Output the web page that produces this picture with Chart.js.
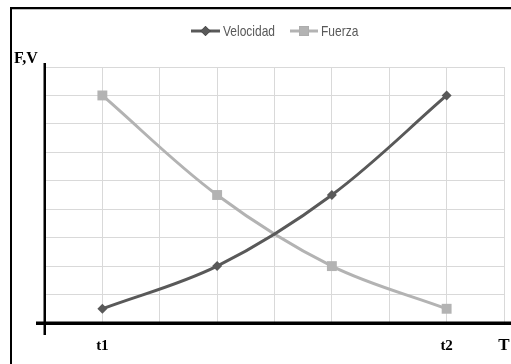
<!DOCTYPE html>
<html lang="es">
<head>
  <meta charset="UTF-8">
  <title>Velocidad y Fuerza</title>
  <script src="https://cdn.jsdelivr.net/npm/chart.js"></script>
  <style>
    body { margin: 0; background: #fff; }
  </style>
</head>
<body>
  <canvas id="grafico" width="511" height="364"></canvas>
<script>
  // datos
  var tiempos = [1, 3, 5, 7];
  var velocidad = [0.5, 2, 4.5, 8];
  var fuerza = [8, 4.5, 2, 0.5];
  var ticksX = [1, 7, 8];
  var textosX = ['t1', 't2', 'T'];
  var nombres = ['Velocidad', 'Fuerza'];
  var colores = ['#595959', '#b3b3b3'];

  function puntos(ys) {
    var lista = [];
    for (var i = 0; i < tiempos.length; i++) {
      lista.push({ x: tiempos[i], y: ys[i] });
    }
    return lista;
  }

  var fuenteSans = '"Liberation Sans", Arial, sans-serif';
  var fuenteSerif = '"Liberation Serif", "DejaVu Serif", serif';

  // dibuja marco, ejes, leyenda y rotulos
  var extras = {
    id: 'extras',
    afterDraw: function (chart) {
      var ctx = chart.ctx;
      var xs = chart.scales.x;
      var ys = chart.scales.y;
      ctx.save();

      // marco
      ctx.fillStyle = '#000';
      ctx.fillRect(10, 7, 501, 2);
      ctx.fillRect(10, 7, 2, 357);
      ctx.fillStyle = '#bdbdbd';
      ctx.fillRect(12, 9, 499, 1);

      // ejes
      var x0 = xs.getPixelForValue(0);
      var y0 = ys.getPixelForValue(0);
      ctx.fillStyle = '#000';
      ctx.fillRect(x0 - 1.5, 63, 2.5, 272);
      ctx.fillRect(36, y0 - 1.5, 475, 3.5);

      // rotulos
      ctx.font = 'bold 16px ' + fuenteSerif;
      ctx.textBaseline = 'alphabetic';
      ctx.textAlign = 'left';
      ctx.fillText('F,V', 14, 63);
      ctx.textAlign = 'center';
      ctx.font = 'bold 15px ' + fuenteSerif;
      for (var i = 0; i < ticksX.length; i++) {
        if (textosX[i] === 'T') ctx.font = 'bold 17px ' + fuenteSerif;
        ctx.fillText(textosX[i], xs.getPixelForValue(ticksX[i]), 350);
      }

      // leyenda (texto estrecho)
      var items = [
        { x1: 191, x2: 220, tx: 223 },
        { x1: 290, x2: 318, tx: 321 }
      ];
      var ly = 31;
      ctx.textAlign = 'left';
      ctx.textBaseline = 'middle';
      for (var j = 0; j < items.length; j++) {
        var it = items[j];
        var ds = chart.data.datasets[j];
        ctx.strokeStyle = ds.borderColor;
        ctx.lineWidth = 3;
        ctx.beginPath();
        ctx.moveTo(it.x1, ly);
        ctx.lineTo(it.x2, ly);
        ctx.stroke();
        Chart.helpers.drawPoint(ctx, {
          pointStyle: ds.pointStyle,
          radius: ds.pointRadius,
          borderWidth: 0,
          rotation: 0
        }, (it.x1 + it.x2) / 2, ly);
        ctx.fillStyle = ds.borderColor;
        ctx.fill();

        ctx.save();
        ctx.translate(it.tx, ly + 1);
        ctx.scale(0.8, 1);
        ctx.font = '15px ' + fuenteSans;
        ctx.fillStyle = '#595959';
        ctx.fillText(nombres[j], 0, 0);
        ctx.restore();
      }
      ctx.restore();
    }
  };

  new Chart(document.getElementById('grafico'), {
    type: 'line',
    data: {
      datasets: [{
        label: nombres[0],
        data: puntos(velocidad),
        borderColor: colores[0],
        backgroundColor: colores[0],
        borderWidth: 3,
        pointStyle: 'rectRot',
        pointRadius: 5,
        pointBorderWidth: 0,
        tension: 0.35
      }, {
        label: nombres[1],
        data: puntos(fuerza),
        borderColor: colores[1],
        backgroundColor: colores[1],
        borderWidth: 3,
        pointStyle: 'rect',
        pointRadius: 7,
        pointBorderWidth: 0,
        tension: 0.35
      }]
    },
    options: {
      responsive: false,
      animation: false,
      layout: { padding: { left: 45, right: 3, top: 67, bottom: 41 } },
      plugins: {
        legend: { display: false },
        tooltip: { enabled: false }
      },
      scales: {
        x: {
          type: 'linear',
          min: 0,
          max: 8,
          ticks: { stepSize: 1, display: false },
          grid: { color: '#d9d9d9', lineWidth: 1, drawTicks: false },
          border: { display: false }
        },
        y: {
          min: 0,
          max: 9,
          ticks: { stepSize: 1, display: false },
          grid: { color: '#d9d9d9', lineWidth: 1, drawTicks: false },
          border: { display: false }
        }
      }
    },
    plugins: [extras]
  });
</script>
</body>
</html>
